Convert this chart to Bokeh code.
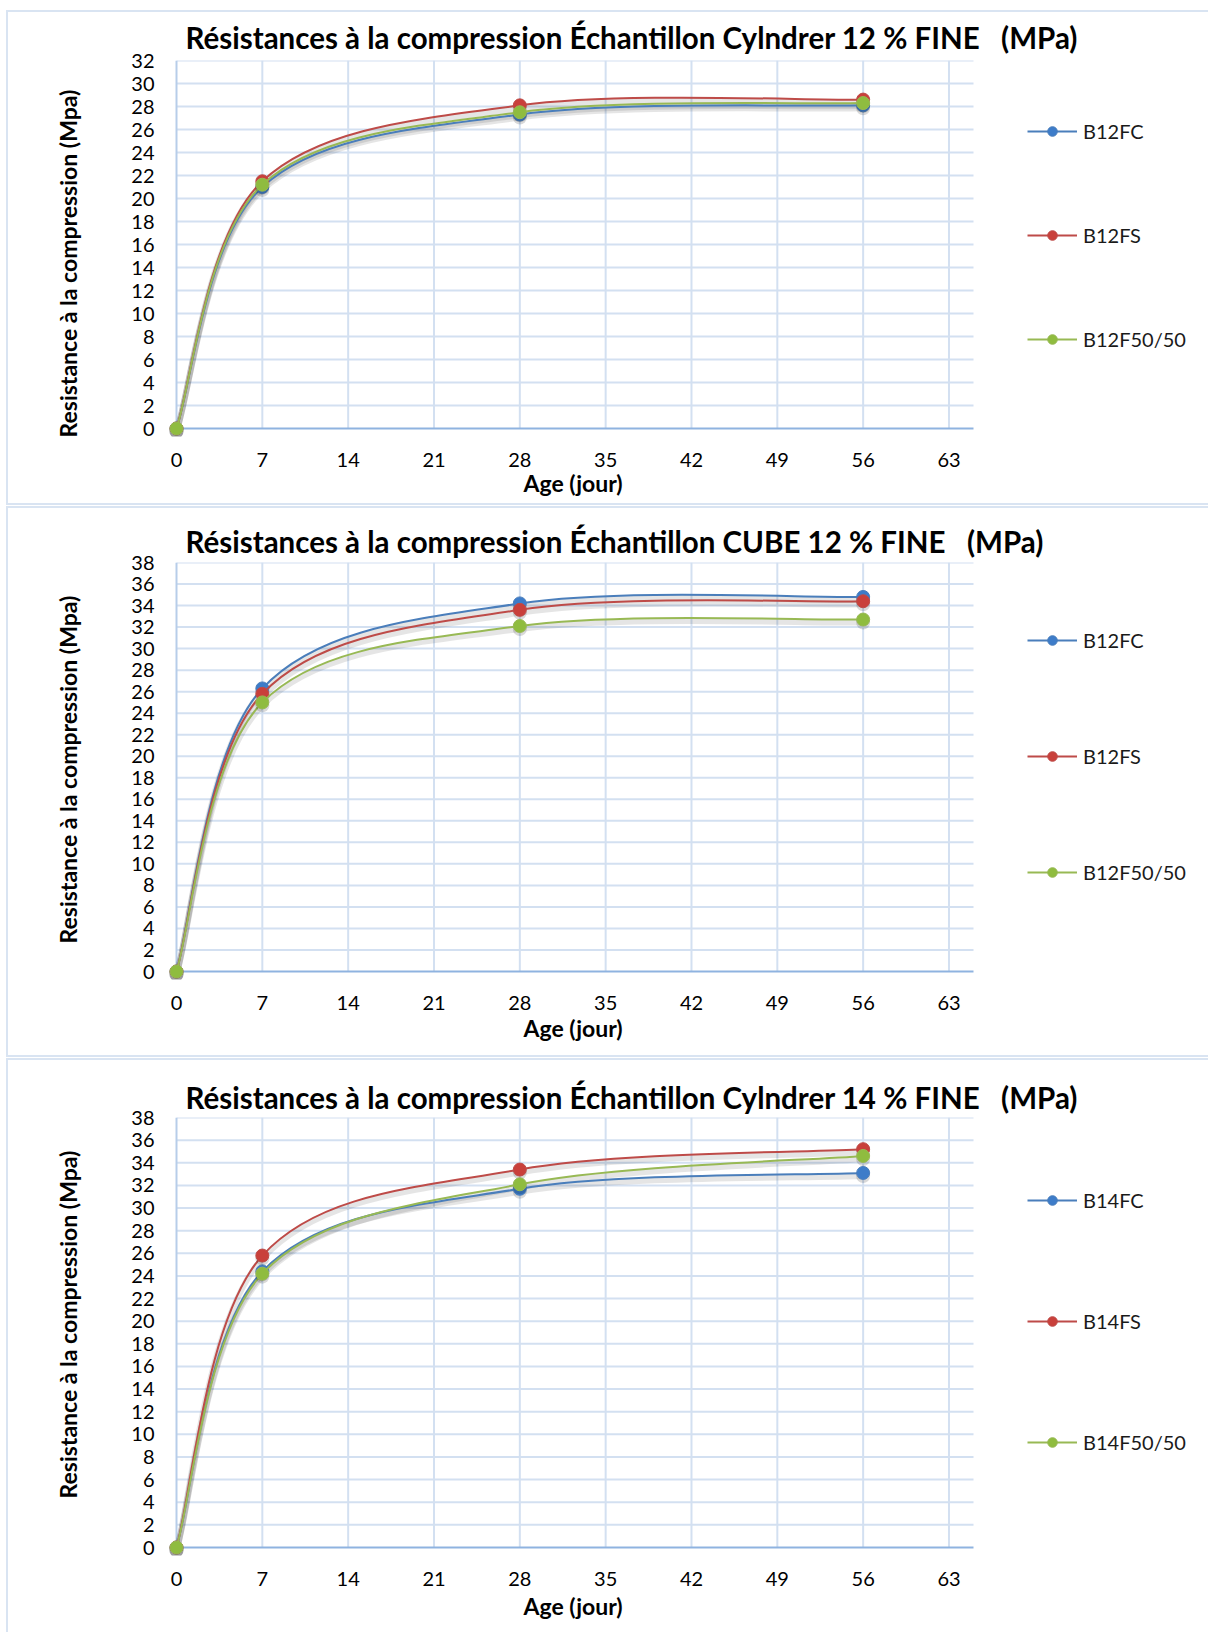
from bokeh.plotting import figure
from bokeh.layouts import column
from bokeh.models import (ColumnDataSource, FixedTicker, Legend, LegendItem,
                          Range1d, Title)
from bokeh.embed import file_html
from bokeh.resources import INLINE

# ---------------- data ----------------
days = [0, 7, 28, 56]
x_ticks = [0, 7, 14, 21, 28, 35, 42, 49, 56, 63]

c1_title = "Résistances à la compression Échantillon Cylndrer 12 % FINE \u00a0 (MPa)"
c1_names = ["B12FC", "B12FS", "B12F50/50"]
c1_fc = [0, 21.0, 27.3, 28.1]
c1_fs = [0, 21.5, 28.1, 28.6]
c1_mix = [0, 21.2, 27.5, 28.3]
c1_ymax = 32

c2_title = "Résistances à la compression Échantillon CUBE 12 % FINE \u00a0 (MPa)"
c2_names = ["B12FC", "B12FS", "B12F50/50"]
c2_fc = [0, 26.3, 34.2, 34.8]
c2_fs = [0, 25.8, 33.6, 34.4]
c2_mix = [0, 25.0, 32.1, 32.7]
c2_ymax = 38

c3_title = "Résistances à la compression Échantillon Cylndrer 14 % FINE \u00a0 (MPa)"
c3_names = ["B14FC", "B14FS", "B14F50/50"]
c3_fc = [0, 24.4, 31.7, 33.1]
c3_fs = [0, 25.8, 33.4, 35.2]
c3_mix = [0, 24.2, 32.1, 34.6]
c3_ymax = 38

x_label = "Age (jour)"
y_label = "Resistance à la compression (Mpa)"

# ---------------- style / layout ----------------
FONT = "Lato"
LINE_COLORS = ["#4a7ebb", "#be4b48", "#98b954"]
MARK_COLORS = ["#3d7cc9", "#c9403b", "#8fbc3f"]
GRID = "#d3e0f1"
BOX = "#d9e4f2"
W = 1208
LEFT = 176            # pixel position of day 0
PLOT_W = 797          # width of the gridded plot area (0 .. 65 days)
X_END = 65
PAD = 8               # room so the markers at (0, 0) are not cut
PX_X = PLOT_W / X_END
FRAME_W = W - LEFT    # frame also holds the legend on its right
X_MAX = FRAME_W / PX_X


def smooth_segments(xs, ys, dy=0.0):
    """Bezier segments (Catmull-Rom style, like Excel's smoothed line)."""
    n = len(xs)
    d = dict(x0=[], y0=[], x1=[], y1=[], cx0=[], cy0=[], cx1=[], cy1=[])
    for i in range(n - 1):
        xp, yp = (xs[i - 1], ys[i - 1]) if i > 0 else (xs[i], ys[i])
        xn, yn = (xs[i + 2], ys[i + 2]) if i + 2 < n else (xs[i + 1], ys[i + 1])
        d["x0"].append(xs[i]); d["y0"].append(ys[i] - dy)
        d["x1"].append(xs[i + 1]); d["y1"].append(ys[i + 1] - dy)
        d["cx0"].append(xs[i] + (xs[i + 1] - xp) / 6)
        d["cy0"].append(ys[i] + (ys[i + 1] - yp) / 6 - dy)
        d["cx1"].append(xs[i + 1] - (xn - xs[i]) / 6)
        d["cy1"].append(ys[i + 1] - (yn - ys[i]) / 6 - dy)
    return ColumnDataSource(d)


def box_styles(top, bottom):
    g = "linear-gradient(%s,%s)" % (BOX, BOX)
    h = bottom - top
    return {
        "background-color": "white",
        "background-image": ", ".join([g, g, g]),
        "background-position": "6px %dpx, 6px %dpx, 6px %dpx" % (top - 1, top - 1, bottom - 1),
        "background-size": "1210px 2px, 2px %dpx, 1210px 2px" % (h + 2),
        "background-repeat": "no-repeat",
    }


def make_chart(title, names, series, ymax, H, T, B, box_top, box_bottom,
               title_standoff, xlab_standoff, ytitle_offset, leg_y, leg_spacing):
    PH = H - T - B                      # pixel height of 0 .. ymax
    p = figure(frame_width=FRAME_W + PAD, frame_height=PH + PAD,
               x_range=Range1d(-PAD / PX_X, X_MAX),
               y_range=Range1d(-PAD * ymax / PH, ymax),
               output_backend="svg", toolbar_location=None,
               min_border_left=LEFT - PAD, min_border_right=0,
               min_border_top=T, min_border_bottom=B - PAD,
               styles=box_styles(box_top, box_bottom))
    p.outline_line_color = None
    p.background_fill_color = "white"
    p.border_fill_alpha = 0

    # title
    p.title.text = title
    p.title.text_font = FONT
    p.title.text_font_size = "29.5px"
    p.title.text_font_style = "bold"
    p.title.text_color = "#000000"
    p.title.align = "left"
    p.title.offset = 9 + PAD
    p.title.standoff = title_standoff

    # axes (lines drawn below as segments at 0)
    y_ticks = list(range(0, ymax + 1, 2))
    p.xaxis.ticker = FixedTicker(ticks=x_ticks)
    p.yaxis.ticker = FixedTicker(ticks=y_ticks)
    p.xaxis.bounds = (0, X_END)
    p.yaxis.bounds = (0, ymax)
    for ax in (p.xaxis, p.yaxis):
        ax.axis_line_color = None
        ax.major_tick_line_color = None
        ax.minor_tick_line_color = None
        ax.major_label_text_font = FONT
        ax.major_label_text_font_size = "20px"
        ax.major_label_text_color = "#000000"
    p.xaxis.major_label_standoff = 18 - PAD
    p.yaxis.major_label_standoff = 16 - PAD

    # x axis title, centred under the plot area (not under the legend)
    xtitle = Title(text=x_label, align="left", offset=523 - (LEFT - PAD),
                   standoff=0, text_font=FONT, text_font_size="23px",
                   text_font_style="bold", text_color="#000000")
    try:
        xtitle.standoff = xlab_standoff
    except Exception:
        xtitle.standoff = max(0, xlab_standoff)
    p.add_layout(xtitle, "below")

    # y axis title
    ytitle = Title(text=y_label, align="left", offset=ytitle_offset, standoff=94,
                   text_font=FONT, text_font_size="23px", text_font_style="bold",
                   text_color="#000000")
    p.add_layout(ytitle, "left")

    # grid only over the plot area (0 .. 65 days), not under the legend
    p.xgrid.grid_line_color = None
    p.ygrid.grid_line_color = None
    p.segment(x0=0, x1=X_END, y0=y_ticks[1:], y1=y_ticks[1:],
              line_color=GRID, line_width=2, level="underlay")
    p.segment(x0=x_ticks[1:], x1=x_ticks[1:], y0=0, y1=ymax,
              line_color=GRID, line_width=2, level="underlay")
    p.segment(x0=[0], x1=[0], y0=[0], y1=[ymax],
              line_color="#b7cde9", line_width=2, level="underlay")
    p.segment(x0=[0], x1=[X_END], y0=[0], y1=[0],
              line_color="#8fb3e0", line_width=2, level="underlay")

    dy = 3.0 * ymax / PH
    items = []
    for name, ys, lc, mc in zip(names, series, LINE_COLORS, MARK_COLORS):
        p.bezier(x0="x0", y0="y0", x1="x1", y1="y1", cx0="cx0", cy0="cy0",
                 cx1="cx1", cy1="cy1", source=smooth_segments(days, ys, dy),
                 line_color="#000000", line_alpha=0.10, line_width=6)
    for name, ys, lc, mc in zip(names, series, LINE_COLORS, MARK_COLORS):
        r_line = p.bezier(x0="x0", y0="y0", x1="x1", y1="y1", cx0="cx0", cy0="cy0",
                          cx1="cx1", cy1="cy1", source=smooth_segments(days, ys),
                          line_color=lc, line_width=2)
        p.scatter(days, [y - dy for y in ys], size=14, fill_color="#000000",
                  fill_alpha=0.15, line_color=None)
        r_pt = p.scatter(days, ys, size=13, fill_color=mc, line_color=lc, line_width=1)
        items.append(LegendItem(label=name, renderers=[r_line, r_pt]))

    leg = Legend(items=items, location=(PAD + PLOT_W + 54, leg_y + PAD),
                 orientation="vertical", padding=0, margin=0, spacing=leg_spacing,
                 glyph_width=50, glyph_height=24, label_height=24,
                 label_standoff=6, label_text_font=FONT, label_text_font_size="20px",
                 label_text_color="#1a1a1a", background_fill_alpha=0,
                 border_line_color=None)
    p.add_layout(leg, "center")
    return p


p1 = make_chart(c1_title, c1_names, [c1_fc, c1_fs, c1_mix], c1_ymax,
                H=506, T=60, B=78, box_top=11, box_bottom=504,
                title_standoff=12, xlab_standoff=-6, ytitle_offset=-1,
                leg_y=77, leg_spacing=80)
p2 = make_chart(c2_title, c2_names, [c2_fc, c2_fs, c2_mix], c2_ymax,
                H=551, T=56, B=86, box_top=1, box_bottom=550,
                title_standoff=8, xlab_standoff=-1, ytitle_offset=36,
                leg_y=87, leg_spacing=92)
p3 = make_chart(c3_title, c3_names, [c3_fc, c3_fs, c3_mix], c3_ymax,
                H=575, T=60, B=85, box_top=2, box_bottom=700,
                title_standoff=6, xlab_standoff=2, ytitle_offset=57,
                leg_y=93, leg_spacing=97)

layout = column(p1, p2, p3, spacing=0)
open("out.html", "w").write(file_html(layout, INLINE))
